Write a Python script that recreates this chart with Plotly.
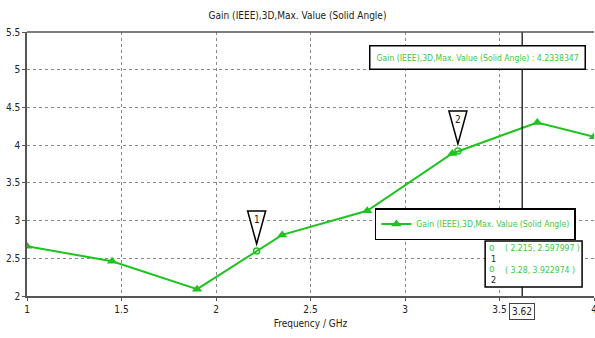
import plotly.graph_objects as go

# Simulated realized gain vs frequency
freq_ghz = [1.0, 1.45, 1.9, 2.35, 2.8, 3.25, 3.7, 4.0]
gain_dbi = [2.66, 2.46, 2.09, 2.81, 3.13, 3.89, 4.30, 4.11]

# Marker readouts
marker_ids = ["1", "2"]
marker_freq = [2.215, 3.28]
marker_gain = [2.597997, 3.922974]

# Cursor position and value readout
cursor_freq = 3.62
cursor_value = 4.2338347

series_name = "Gain (IEEE),3D,Max. Value (Solid Angle)"
x_ticks = [1, 1.5, 2, 2.5, 3, 3.5, 4]
y_ticks = [2, 2.5, 3, 3.5, 4, 4.5, 5, 5.5]

LINE_GREEN = "#1ec31e"
TEXT_GREEN = "#3cc83c"
DARK = "#222222"
FONT = "DejaVu Sans Condensed, DejaVu Sans, sans-serif"
BOX_SIZE = 8.6

fig = go.Figure()

fig.add_trace(go.Scatter(
    x=freq_ghz, y=gain_dbi, mode="lines+markers", name=series_name,
    line=dict(color=LINE_GREEN, width=2),
    marker=dict(symbol="triangle-up", size=9, color=LINE_GREEN),
    cliponaxis=True,
))

fig.add_trace(go.Scatter(
    x=marker_freq, y=marker_gain, mode="markers", showlegend=False,
    marker=dict(symbol="circle-open", size=6, color=LINE_GREEN, line=dict(width=1.5)),
))

shapes = [
    # cursor line
    dict(type="line", xref="x", yref="paper", x0=cursor_freq, x1=cursor_freq,
         y0=0, y1=1, line=dict(color="black", width=1.2)),
    # top frame line
    dict(type="line", xref="paper", yref="paper", x0=0, x1=1, y0=1, y1=1,
         line=dict(color="#555555", width=1.5)),
    # marker readout panel
    dict(type="rect", xref="paper", yref="paper", x0=0.808, x1=0.979,
         y0=0.034, y1=0.208, line=dict(color="black", width=1.5), fillcolor="white"),
]

annotations = []
for mid, mx, my in zip(marker_ids, marker_freq, marker_gain):
    # inverted flag above each marker
    shapes.append(dict(
        type="path", xref="x", yref="y", xsizemode="pixel", ysizemode="pixel",
        xanchor=mx, yanchor=my,
        path="M -9 40 L 9 40 L 0 7 Z",
        line=dict(color="black", width=1.5), fillcolor="white",
    ))
    annotations.append(dict(
        x=mx, y=my, xref="x", yref="y", text=mid, showarrow=False,
        yshift=31, font=dict(family=FONT, size=10, color=DARK),
    ))

# cursor value box
annotations.append(dict(
    x=0.986, y=0.905, xref="paper", yref="paper", xanchor="right", yanchor="middle",
    text=f"{series_name} : {cursor_value:.7f}", showarrow=False,
    font=dict(family=FONT, size=BOX_SIZE, color=TEXT_GREEN),
    bordercolor="black", borderwidth=1.5, borderpad=6, bgcolor="white",
))

# marker readout rows: symbol, index below it, coordinates
row_y = [0.180, 0.100]
for mid, mx, my, ry in zip(marker_ids, marker_freq, marker_gain, row_y):
    annotations.append(dict(
        x=0.820, y=ry + 0.004, xref="paper", yref="paper", xanchor="center",
        yanchor="middle", text="o", showarrow=False,
        font=dict(family=FONT, size=10, color=TEXT_GREEN),
    ))
    annotations.append(dict(
        x=0.823, y=ry - 0.040, xref="paper", yref="paper", xanchor="center",
        yanchor="middle", text=mid, showarrow=False,
        font=dict(family=FONT, size=9, color=DARK),
    ))
    annotations.append(dict(
        x=0.840, y=ry, xref="paper", yref="paper", xanchor="left", yanchor="middle",
        text=f"( {mx:g}, {my:.6f} )", showarrow=False,
        font=dict(family=FONT, size=BOX_SIZE, color=TEXT_GREEN),
    ))

# cursor frequency label on axis
annotations.append(dict(
    x=cursor_freq, y=0, xref="x", yref="paper", yanchor="top",
    text=f"{cursor_freq:.2f}", showarrow=False, yshift=-7,
    font=dict(family=FONT, size=10, color=DARK),
    bordercolor="#444444", borderwidth=1, borderpad=2, bgcolor="white",
))

fig.update_layout(
    width=595, height=338,
    margin=dict(l=27, r=1, t=32, b=42, autoexpand=False),
    paper_bgcolor="white", plot_bgcolor="white",
    font=dict(family=FONT, size=10, color=DARK),
    title=dict(text=series_name, x=0.5, xanchor="center", y=0.955, yanchor="middle",
               font=dict(family=FONT, size=10, color=DARK)),
    showlegend=True,
    legend=dict(x=0.968, y=0.333, xanchor="right", yanchor="top",
                bgcolor="white", bordercolor="black", borderwidth=1.5,
                font=dict(family=FONT, size=BOX_SIZE, color=TEXT_GREEN),
                itemwidth=30),
    shapes=shapes, annotations=annotations,
)

fig.update_xaxes(
    range=[1, 4], tickvals=x_ticks, ticktext=[f"{v:g}" for v in x_ticks],
    showgrid=True, gridcolor="#888888", griddash="dot", gridwidth=1,
    showline=True, linecolor="#555555", linewidth=1.5,
    ticks="outside", ticklen=3, tickcolor="#555555", automargin=False,
    ticklabeloverflow="allow",
    title=dict(text="Frequency / GHz", standoff=6, font=dict(family=FONT, size=10)),
    zeroline=False,
)
fig.update_yaxes(
    range=[2, 5.5], tickvals=y_ticks, ticktext=[f"{v:g}" for v in y_ticks],
    showgrid=True, gridcolor="#888888", griddash="dot", gridwidth=1,
    showline=True, linecolor="#555555", linewidth=1.5,
    ticks="outside", ticklen=3, tickcolor="#555555", automargin=False,
    ticklabeloverflow="allow",
    zeroline=False,
)

fig.write_html("out.html")
